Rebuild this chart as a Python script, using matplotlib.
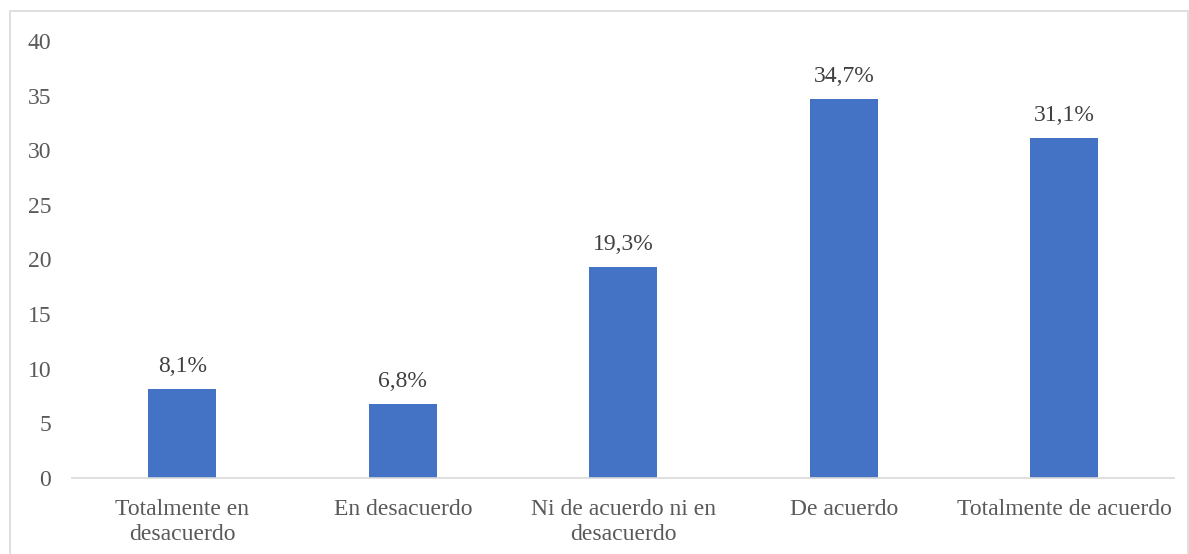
import matplotlib.pyplot as plt
from matplotlib.patches import Rectangle

plt.rcParams['font.family'] = ['Liberation Serif', 'DejaVu Serif']

categorias = ["Totalmente en\ndesacuerdo", "En desacuerdo", "Ni de acuerdo ni en\ndesacuerdo",
              "De acuerdo", "Totalmente de acuerdo"]
valores = [8.1, 6.8, 19.3, 34.7, 31.1]
etiquetas = ["8,1%", "6,8%", "19,3%", "34,7%", "31,1%"]

gris = '#595959'
fs = 17
fig = plt.figure(figsize=(11.89, 5.54), dpi=100)
ax = fig.add_axes([0.0606, 0.1372, 0.9272, 0.7888])

x = range(len(categorias))
barras = ax.bar(x, valores, width=0.31, color='#4472C4')
for b, t in zip(barras, etiquetas):
    ax.text(b.get_x() + b.get_width() / 2, b.get_height() + 1.1, t,
            ha='center', va='bottom', fontsize=fs, color='#404040')

ax.set_xlim(-0.5, len(categorias) - 0.5)
ax.set_ylim(0, 40)
ax.set_yticks(range(0, 41, 5))
ax.set_xticks(list(x))
ax.set_xticklabels(categorias, fontsize=fs, color=gris, linespacing=1.25)
ax.tick_params(axis='y', labelsize=fs, labelcolor=gris, length=0, pad=15)
ax.tick_params(axis='x', length=0, pad=15)
for s in ['top', 'right', 'left']:
    ax.spines[s].set_visible(False)
ax.spines['bottom'].set_color('#d9d9d9')
ax.spines['bottom'].set_linewidth(1.2)

# marco exterior del gráfico
fig.patches.append(Rectangle((10 / 1189, -0.05), 1178 / 1189, 1 - 11 / 554 + 0.05,
                             transform=fig.transFigure, fill=False,
                             edgecolor='#d9d9d9', linewidth=1.2))

fig.savefig('out.png', dpi=100)
